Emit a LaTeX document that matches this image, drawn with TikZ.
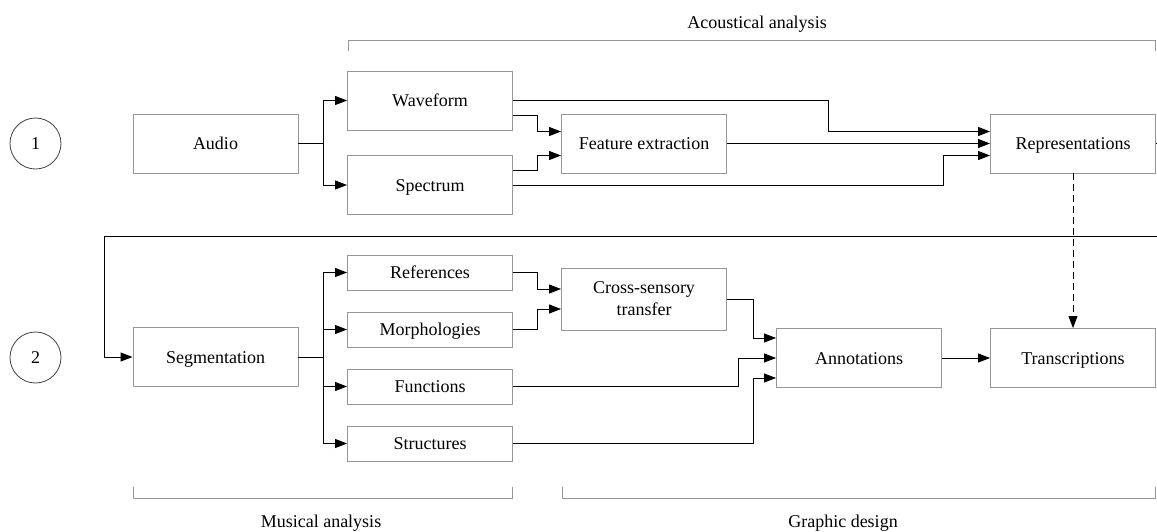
\documentclass[tikz,border=0pt]{standalone}
\usepackage{fontspec}
\setmainfont{Liberation Serif}
\usetikzlibrary{arrows.meta}
\definecolor{boxgray}{RGB}{150,150,150}
\begin{document}
\begin{tikzpicture}[x=1pt,y=-1pt,
  every node/.style={font=\fontsize{18}{21}\selectfont},
  plainbox/.style={draw=boxgray, line width=0.9pt, rectangle, minimum width=165pt, minimum height=59pt, inner sep=0pt, align=center},
  box/.style={plainbox, text height=12pt, text depth=0pt},
  sbox/.style={box, minimum height=35pt},
  circ/.style={draw=black!75, line width=0.8pt, circle, minimum size=51pt, inner sep=0pt, text height=12pt, text depth=0pt},
  conn/.style={draw=black, line width=0.9pt, -{Triangle[length=12pt,width=9pt]}},
  line/.style={draw=black, line width=0.9pt},
  brack/.style={draw=boxgray, line width=0.9pt},
  lab/.style={inner sep=0pt, text height=12pt, text depth=0pt}
]
\useasboundingbox (0,0) rectangle (1157,531);

% circles
\node[circ] (c1) at (35.5,143.5) {1};
\node[circ] (c2) at (35.5,357.5) {2};

% row 1
\node[box] (audio) at (215.5,143.5) {Audio};
\node[box] (wave) at (430,100.5) {Waveform};
\node[box] (spec) at (430,185) {Spectrum};
\node[box] (fe) at (644,143.5) {Feature extraction};
\node[box] (rep) at (1073,143.5) {Representations};

% row 2
\node[box] (seg) at (215.5,357) {Segmentation};
\node[sbox] (refs) at (430,272.5) {References};
\node[sbox] (morph) at (430,329.5) {Morphologies};
\node[sbox] (func) at (430,386.5) {Functions};
\node[sbox] (struct) at (430,443.5) {Structures};
\node[plainbox, minimum height=62pt] (cross) at (644,299) {Cross-sensory\\[1pt]transfer};
\node[box] (annot) at (859,358) {Annotations};
\node[box] (trans) at (1073,358) {Transcriptions};

% coordinates
\coordinate (s1) at (323,143.5);
\coordinate (s2) at (323,357);
\coordinate (fbR) at (1157,236);
\coordinate (repR) at (1157,143.5);

% row 1 connectors
\draw[line] (audio.east) -- (s1);
\draw[conn] (s1) |- (wave.west);
\draw[conn] (s1) |- (spec.west);
\draw[conn] (wave.east) -| (828,131.5) -- ([yshift=12pt]rep.west);
\draw[conn] ([yshift=-15pt]wave.east) -| (537,131.5) -- ([yshift=12pt]fe.west);
\draw[conn] ([yshift=15pt]spec.east) -| (537,155.5) -- ([yshift=-12pt]fe.west);
\draw[conn] (spec.east) -| (943,155.5) -- ([yshift=-12pt]rep.west);
\draw[conn] (fe.east) -- (rep.west);
\draw[line] (rep.east) -- (repR);

% feedback
\draw[conn] (fbR) -| (104,357) -- (seg.west);

% dashed
\draw[conn, dash pattern=on 7pt off 4pt] (rep.south) -- (trans.north);

% row 2 connectors
\draw[line] (seg.east) -- (s2);
\draw[conn] (s2) |- (refs.west);
\draw[conn] (s2) |- (morph.west);
\draw[conn] (s2) |- (func.west);
\draw[conn] (s2) |- (struct.west);
\draw[conn] (refs.east) -| (537,289) -- ([yshift=10pt]cross.west);
\draw[conn] (morph.east) -| (537,309) -- ([yshift=-10pt]cross.west);
\draw[conn] (cross.east) -| (753,338) -- ([yshift=20pt]annot.west);
\draw[conn] (func.east) -| (738,358) -- (annot.west);
\draw[conn] (struct.east) -| (753,378) -- ([yshift=-20pt]annot.west);
\draw[conn] (annot.east) -- (trans.west);

% brackets
\draw[brack] (348,51) -- (348,40) -- (1155,40) -- (1155,51);
\draw[brack] (133,487) -- (133,498) -- (512,498) -- (512,487);
\draw[brack] (562,487) -- (562,498) -- (1155,498) -- (1155,487);
\node[lab] (lacou) at (757,22) {Acoustical analysis};
\node[lab] (lmus) at (321,521) {Musical analysis};
\node[lab] (lgra) at (843,521) {Graphic design};
\end{tikzpicture}
\end{document}
